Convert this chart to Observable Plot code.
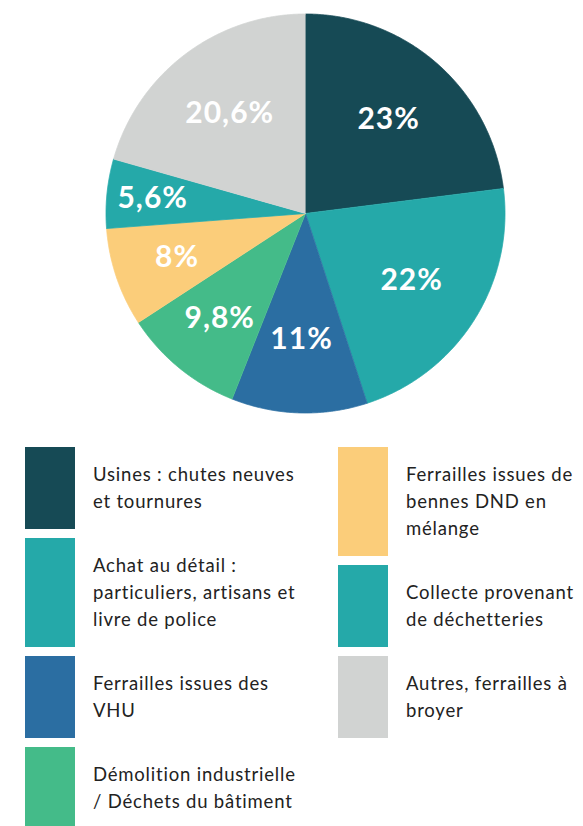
<!DOCTYPE html>
<html>
<head>
<meta charset="utf-8">
<script src="https://cdn.jsdelivr.net/npm/d3@7"></script>
<script src="https://cdn.jsdelivr.net/npm/@observablehq/plot@0.6"></script>
<style>
  html, body { margin: 0; padding: 0; background: #fff; }
  #wrap { position: relative; width: 583px; height: 826px; overflow: hidden; }
  #chart svg { display: block; }
  .col { position: absolute; top: 447px; display: flex; flex-direction: column; gap: 9px; }
  .item { display: flex; align-items: stretch; }
  .sw { width: 50px; flex: none; }
  .txt { padding: 14px 0 14px 18px; font-family: Lato, "Noto Sans", sans-serif; font-size: 18.5px; letter-spacing: 0.8px; line-height: 27px; color: #222; white-space: pre-line; }
</style>
</head>
<body>
<div id="wrap">
  <div id="chart"></div>
  <div class="col" id="colL" style="left:25px"></div>
  <div class="col" id="colR" style="left:338px"></div>
</div>
<script>
const categories = [
  "Usines : chutes neuves\net tournures",
  "Achat au détail :\nparticuliers, artisans et\nlivre de police",
  "Ferrailles issues des\nVHU",
  "Démolition industrielle\n/ Déchets du bâtiment",
  "Ferrailles issues de\nbennes DND en\nmélange",
  "Collecte provenant\nde déchetteries",
  "Autres, ferrailles à\nbroyer"
];
const values = [23, 22, 11, 9.8, 8, 5.6, 20.6];
const valueLabels = ["23%", "22%", "11%", "9,8%", "8%", "5,6%", "20,6%"];
const colors = ["#164a55", "#25a9a9", "#2b6ea2", "#44bb89", "#fbcd7a", "#25a9a9", "#d1d3d2"];

const rows = categories.map((c, i) => ({name: c, value: values[i], label: valueLabels[i]}));
const arcs = d3.pie().sort(null).value(d => d.value).startAngle(0).endAngle(2 * Math.PI)(rows);

const pts = arcs.flatMap(p => {
  const n = Math.max(4, Math.ceil((p.endAngle - p.startAngle) / 0.005));
  const out = [{name: p.data.name, x: 0, y: 0}];
  for (let k = 0; k <= n; k++) {
    const a = p.startAngle + (p.endAngle - p.startAngle) * k / n;
    out.push({name: p.data.name, x: Math.sin(a), y: Math.cos(a)});
  }
  return out;
});

const labelRadius = v => v < 7 ? 0.77 : v < 10 ? 0.68 : 0.63;
const labels = arcs.map(p => {
  const a = (p.startAngle + p.endAngle) / 2;
  const r = labelRadius(p.data.value);
  return {label: p.data.label, x: r * Math.sin(a), y: r * Math.cos(a)};
});

const chart = Plot.plot({
  width: 583,
  height: 430,
  margin: 0,
  x: {axis: null, domain: [-1, 1], range: [105.5, 504.5]},
  y: {axis: null, domain: [-1, 1], range: [412.5, 13.5]},
  color: {domain: categories, range: colors},
  style: {background: "#fff", letterSpacing: "1px"},
  marks: [
    Plot.line(pts, {x: "x", y: "y", z: "name", fill: "name", stroke: "name", strokeWidth: 0.8, curve: "linear"}),
    Plot.text(labels, {x: "x", y: "y", text: "label", fill: "white", fontSize: 30, fontWeight: 700, fontFamily: "Lato, 'Noto Sans', sans-serif"})
  ]
});
document.getElementById("chart").appendChild(chart);

function addItem(col, i) {
  const item = document.createElement("div");
  item.className = "item";
  const sw = document.createElement("div");
  sw.className = "sw";
  sw.style.background = colors[i];
  const t = document.createElement("div");
  t.className = "txt";
  t.textContent = categories[i];
  item.appendChild(sw);
  item.appendChild(t);
  col.appendChild(item);
}
const colL = document.getElementById("colL");
const colR = document.getElementById("colR");
categories.forEach((c, i) => addItem(i < 4 ? colL : colR, i));
</script>
</body>
</html>
